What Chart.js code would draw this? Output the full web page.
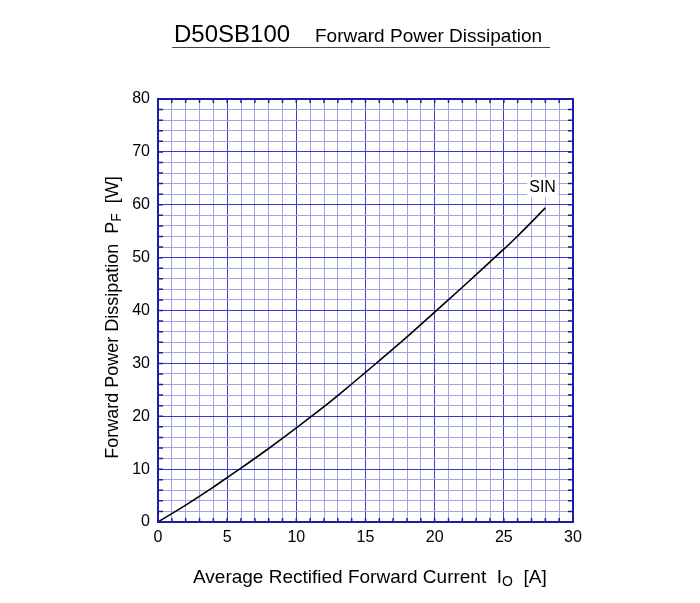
<!DOCTYPE html>
<html>
<head>
<meta charset="utf-8">
<script src="https://cdn.jsdelivr.net/npm/chart.js@4/dist/chart.umd.min.js"></script>
<style>
  html, body { margin: 0; padding: 0; background: #fff; }
  #wrap { width: 700px; height: 603px; position: relative; }
</style>
</head>
<body>
<div id="wrap"><canvas id="c" width="700" height="603"></canvas></div>
<script>
// values
const currentA = [0, 2, 4, 5, 6, 8, 10, 12, 14, 15, 16, 18, 20, 22, 24, 25, 26, 28];
const powerW   = [0, 3.2, 6.6, 8.4, 10.2, 13.9, 17.8, 21.8, 26.1, 28.3, 30.5, 35.0, 39.7, 44.4, 49.2, 51.6, 54.1, 59.4];
const xTicks = [0, 5, 10, 15, 20, 25, 30];
const yTicks = [0, 10, 20, 30, 40, 50, 60, 70, 80];
const seriesName = 'SIN';
const labelAt = { x: 27.8, y: 63.3 };

const FONT = 'Liberation Sans, Arial, sans-serif';
const MAJOR = '#3c3cd4';
const MINOR = '#a4a4e6';
const FRAME = '#1c1ca8';

function gridColor(ctx, majorStep) {
  const v = ctx.tick ? ctx.tick.value : 0;
  const r = Math.abs(v % majorStep);
  return (r < 1e-6 || majorStep - r < 1e-6) ? MAJOR : MINOR;
}

function drawSub(ctx, parts, x, y, align) {
  // parts: [text, size, dy]
  let total = 0;
  parts.forEach(p => { ctx.font = p[1] + 'px ' + FONT; total += ctx.measureText(p[0]).width; });
  let cx = align === 'center' ? x - total / 2 : x;
  ctx.textAlign = 'left';
  parts.forEach(p => {
    ctx.font = p[1] + 'px ' + FONT;
    ctx.fillText(p[0], cx, y + (p[2] || 0));
    cx += ctx.measureText(p[0]).width;
  });
}

const decor = {
  id: 'decor',
  afterDraw(chart) {
    const { ctx, chartArea: a, scales: { x, y } } = chart;
    ctx.save();
    // inward ticks
    ctx.strokeStyle = FRAME;
    ctx.lineWidth = 1.5;
    ctx.beginPath();
    x.ticks.forEach(t => {
      const px = x.getPixelForValue(t.value);
      ctx.moveTo(px, a.top); ctx.lineTo(px, a.top + 4);
      ctx.moveTo(px, a.bottom); ctx.lineTo(px, a.bottom - 4);
    });
    y.ticks.forEach(t => {
      const py = y.getPixelForValue(t.value);
      ctx.moveTo(a.left, py); ctx.lineTo(a.left + 5, py);
      ctx.moveTo(a.right, py); ctx.lineTo(a.right - 5, py);
    });
    ctx.stroke();
    // frame
    ctx.lineWidth = 2;
    ctx.strokeRect(a.left, a.top, a.right - a.left, a.bottom - a.top);

    // series label with white box
    const lx = x.getPixelForValue(labelAt.x), ly = y.getPixelForValue(labelAt.y);
    ctx.font = '16px ' + FONT;
    const w = ctx.measureText(seriesName).width;
    ctx.fillStyle = '#fff';
    ctx.fillRect(lx - w / 2 - 2, ly - 10, w + 4, 20);
    ctx.fillStyle = '#000';
    ctx.textAlign = 'center';
    ctx.textBaseline = 'middle';
    ctx.fillText(seriesName, lx, ly);

    // titles
    ctx.textBaseline = 'alphabetic';
    ctx.fillStyle = '#000';
    ctx.font = '24px ' + FONT;
    ctx.textAlign = 'left';
    ctx.fillText('D50SB100', 174, 42);
    ctx.font = '19px ' + FONT;
    ctx.fillText('Forward Power Dissipation', 315, 42);
    ctx.strokeStyle = '#444';
    ctx.lineWidth = 1;
    ctx.beginPath();
    ctx.moveTo(172, 47.5); ctx.lineTo(550, 47.5);
    ctx.stroke();

    // x axis title
    drawSub(ctx, [['Average Rectified Forward Current  I', 19], ['O', 14, 3], ['  [A]', 19]], 193, 583, 'left');

    // y axis title
    ctx.translate(118, (a.top + a.bottom) / 2 + 7);
    ctx.rotate(-Math.PI / 2);
    drawSub(ctx, [['Forward Power Dissipation  P', 18], ['F', 14, 3], ['  [W]', 18]], 0, 0, 'center');
    ctx.restore();
  }
};

new Chart(document.getElementById('c'), {
  type: 'line',
  data: {
    datasets: [{
      label: seriesName,
      data: currentA.map((v, i) => ({ x: v, y: powerW[i] })),
      borderColor: '#000',
      borderWidth: 1.6,
      pointRadius: 0,
      cubicInterpolationMode: 'monotone',
      fill: false
    }]
  },
  options: {
    responsive: false,
    animation: false,
    layout: { padding: { left: 0, right: 127, top: 99, bottom: 0 } },
    plugins: { legend: { display: false }, tooltip: { enabled: false }, title: { display: false } },
    scales: {
      x: {
        type: 'linear', min: 0, max: 30,
        afterFit: s => { s.height = 81; },
        ticks: {
          stepSize: 1, autoSkip: false, maxRotation: 0, padding: 6,
          color: '#000', font: { family: FONT, size: 16 },
          callback: v => xTicks.includes(v) ? String(v) : ''
        },
        grid: { color: c => gridColor(c, 5), lineWidth: 1, drawTicks: false },
        border: { display: false }
      },
      y: {
        type: 'linear', min: 0, max: 80,
        afterFit: s => { s.width = 158; },
        ticks: {
          stepSize: 2, autoSkip: false, padding: 8,
          color: '#000', font: { family: FONT, size: 16 },
          callback: v => yTicks.includes(v) ? String(v) : ''
        },
        grid: { color: c => gridColor(c, 10), lineWidth: 1, drawTicks: false },
        border: { display: false }
      }
    }
  },
  plugins: [decor]
});
</script>
</body>
</html>
